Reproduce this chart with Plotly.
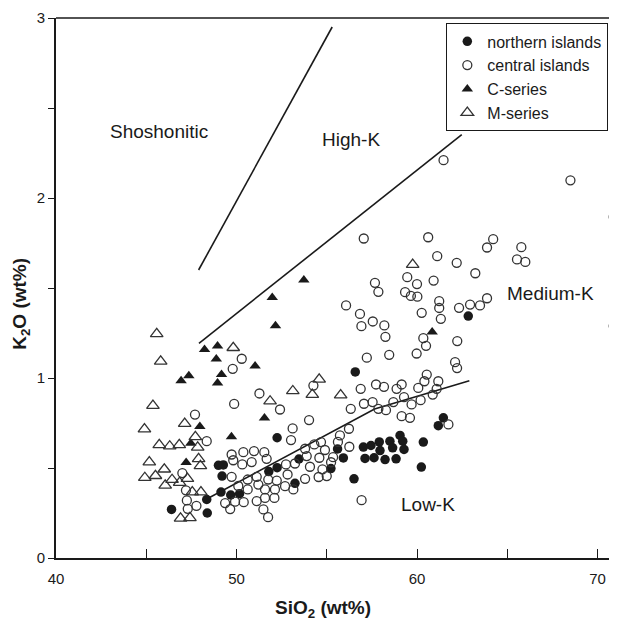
import plotly.graph_objects as go

# ---------------- data (SiO2 wt%, K2O wt%) ----------------
north_x = [46.4, 48.38, 48.35, 49.0, 49.27, 49.2, 49.14, 49.68, 50.17, 51.79, 52.25, 52.25,
           53.46, 53.24, 55.23, 55.6, 55.92, 56.51, 56.58, 57.03, 57.45, 57.91, 58.5, 59.06,
           59.21, 57.95, 58.65, 59.28, 57.12, 57.62, 58.23, 58.84, 60.35, 60.24, 61.46, 61.18, 62.84]
north_y = [0.27, 0.25, 0.325, 0.515, 0.517, 0.455, 0.366, 0.35, 0.357, 0.48, 0.502, 0.668,
           0.55, 0.415, 0.497, 0.606, 0.556, 0.44, 1.034, 0.616, 0.625, 0.645, 0.649, 0.681,
           0.649, 0.597, 0.612, 0.603, 0.553, 0.557, 0.547, 0.551, 0.644, 0.505, 0.779, 0.735, 1.344]

central_x = [61.47, 68.5, 70.9, 70.9, 57.05, 60.62, 61.12, 62.2, 63.23, 63.88, 64.22, 65.78,
             65.54, 66.0, 59.46, 60.0, 60.92, 59.34, 59.66, 60.02, 61.23, 61.23, 61.32, 60.26,
             62.33, 62.94, 63.49, 63.88, 57.67, 57.86, 56.07, 56.84, 56.92, 57.55, 58.19, 58.25,
             60.35, 60.5, 59.98, 62.23, 58.46, 57.22, 62.11, 62.22,
             56.88, 57.73, 58.17, 58.87, 59.15, 60.07, 60.54, 60.41, 61.18, 61.09, 60.87,
             56.33, 57.06, 57.54, 57.86, 58.28, 58.69, 59.28, 59.7, 60.2, 59.15, 59.61, 61.74,
             54.26, 50.29, 49.79,
             56.23, 55.73, 56.25, 55.62, 55.35, 54.02, 54.31, 54.68, 53.8, 54.9, 53.89, 54.59,
             53.24, 52.74, 54.07, 54.76, 55.24, 53.8, 52.83, 53.11, 53.02, 52.41, 51.27,
             55.0, 54.55,
             49.73, 50.38, 50.97, 51.54, 49.82, 50.32, 50.84, 51.67,
             49.73, 50.62, 51.12, 51.21, 51.76, 52.23, 52.69, 50.1, 50.62, 51.58, 52.13, 53.15,
             49.37, 49.65, 49.92, 50.4, 51.12, 51.58, 52.1, 51.49, 51.75,
             47.0, 47.2, 47.25, 47.78, 47.3, 47.7, 48.35, 49.87, 56.93]
central_y = [2.21, 2.098, 1.895, 1.289, 1.775, 1.782, 1.677, 1.64, 1.582, 1.725, 1.771, 1.727,
             1.659, 1.645, 1.56, 1.522, 1.541, 1.477, 1.456, 1.452, 1.427, 1.389, 1.329, 1.362,
             1.39, 1.408, 1.403, 1.443, 1.529, 1.479, 1.403, 1.356, 1.288, 1.314, 1.292, 1.229,
             1.221, 1.179, 1.136, 1.205, 1.129, 1.113, 1.088, 1.055,
             0.94, 0.964, 0.951, 0.94, 0.964, 0.945, 1.019, 0.982, 0.982, 0.94, 0.908,
             0.829, 0.857, 0.866, 0.829, 0.821, 0.866, 0.894, 0.853, 0.877, 0.788, 0.779, 0.742,
             0.958, 1.107, 1.051,
             0.718, 0.681, 0.618, 0.645, 0.56, 0.766, 0.631, 0.644, 0.607, 0.6, 0.566, 0.557,
             0.525, 0.52, 0.507, 0.492, 0.532, 0.44, 0.464, 0.72, 0.655, 0.825, 0.914,
             0.455, 0.45,
             0.575, 0.588, 0.594, 0.588, 0.543, 0.52, 0.533, 0.551,
             0.451, 0.436, 0.451, 0.408, 0.436, 0.43, 0.399, 0.4, 0.381, 0.381, 0.381, 0.381,
             0.305, 0.272, 0.313, 0.31, 0.316, 0.334, 0.334, 0.27, 0.227,
             0.472, 0.376, 0.32, 0.29, 0.273, 0.797, 0.649, 0.856, 0.321]

cser_x = [46.93, 47.36, 48.23, 48.95, 48.88, 49.17, 48.95, 51.03, 51.98, 52.16, 53.73, 60.84,
          47.97, 47.47, 47.21, 49.72, 51.55]
cser_y = [0.985, 1.013, 1.158, 1.178, 1.105, 1.02, 0.972, 1.066, 1.447, 1.29, 1.544, 1.255,
          0.731, 0.637, 0.531, 0.673, 0.778]

mser_x = [45.58, 45.8, 49.82, 45.37, 51.86, 53.12, 54.2, 54.58, 55.77, 59.76, 44.9, 47.13,
          47.72, 45.72, 46.3, 46.83, 47.85, 45.17, 47.9, 48.0, 46.0, 44.92, 45.51, 46.05,
          46.43, 46.85, 47.28, 47.55, 48.03, 46.9, 47.42]
mser_y = [1.245, 1.092, 1.168, 0.847, 0.871, 0.928, 0.908, 0.992, 0.905, 1.63, 0.716, 0.747,
          0.673, 0.629, 0.621, 0.629, 0.615, 0.533, 0.551, 0.512, 0.493, 0.446, 0.457, 0.404,
          0.435, 0.419, 0.441, 0.366, 0.366, 0.22, 0.223]

# field boundary lines
shosho_x, shosho_y = [47.9, 55.3], [1.6, 2.95]
highk_x, highk_y = [47.92, 62.48], [1.193, 2.352]
lowk_x, lowk_y = [48.3, 57.65, 62.9], [0.325, 0.828, 0.985]

x_ticks = [40, 50, 60, 70]
x_minor = [45, 55, 65]
y_ticks = [0, 1, 2, 3]
y_minor = [0.5, 1.5, 2.5]

INK = "#1a1a1a"
FONT = "Liberation Sans, Arial, Helvetica, sans-serif"

fig = go.Figure()

for bx, by in [(shosho_x, shosho_y), (highk_x, highk_y), (lowk_x, lowk_y)]:
    fig.add_trace(go.Scatter(x=bx, y=by, mode="lines", showlegend=False,
                             line=dict(color=INK, width=1.6), hoverinfo="skip"))

fig.add_trace(go.Scatter(x=north_x, y=north_y, mode="markers", name="northern islands",
                         legendgroup="a",
                         marker=dict(symbol="circle", size=9.5, color=INK,
                                     line=dict(width=0))))
fig.add_trace(go.Scatter(x=central_x, y=central_y, mode="markers", name="central islands",
                         legendgroup="b",
                         marker=dict(symbol="circle-open", size=9, color="#333333",
                                     line=dict(width=1.3, color="#333333"))))
fig.add_trace(go.Scatter(x=cser_x, y=cser_y, mode="markers", name="C-series",
                         legendgroup="c",
                         marker=dict(symbol="triangle-up", size=10, color=INK,
                                     line=dict(width=0))))
fig.add_trace(go.Scatter(x=mser_x, y=mser_y, mode="markers", name="M-series",
                         legendgroup="d",
                         marker=dict(symbol="triangle-up-open", size=11, color="#333333",
                                     line=dict(width=1.3, color="#333333"))))

labels = [("Shoshonitic", 45.73, 2.37), ("High-K", 56.37, 2.327),
          ("Medium-K", 67.42, 1.468), ("Low-K", 60.6, 0.297)]
annotations = [dict(x=lx, y=ly, xref="x", yref="y", text=t, showarrow=False,
                    font=dict(size=19, color=INK, family=FONT))
               for t, lx, ly in labels]
annotations.append(dict(x=0.4768, y=-0.095, xref="paper", yref="paper",
                        text="<b>SiO<sub>2</sub> (wt%)</b>", showarrow=False,
                        xanchor="center", yanchor="middle",
                        font=dict(size=19, color=INK, family=FONT)))
annotations.append(dict(x=-0.0613, y=0.47, xref="paper", yref="paper",
                        text="<b>K<sub>2</sub>O (wt%)</b>", showarrow=False, textangle=-90,
                        xanchor="center", yanchor="middle",
                        font=dict(size=19, color=INK, family=FONT)))

# page has an 8px body margin: figure sized so the plot area lands where the reference has it
fig.update_layout(
    width=609, height=618,
    margin=dict(l=48, r=0, t=10, b=68),
    paper_bgcolor="white", plot_bgcolor="white",
    font=dict(family=FONT, color=INK, size=15),
    annotations=annotations,
    shapes=[dict(type="line", xref="paper", yref="paper", x0=0, x1=1, y0=1, y1=1,
                 line=dict(color=INK, width=1.6))],
    legend=dict(x=0.984, xanchor="right", y=0.9906, yanchor="top",
                bordercolor=INK, borderwidth=1.3, bgcolor="white",
                font=dict(size=16, color=INK, family=FONT),
                tracegroupgap=0, itemwidth=30),
    xaxis=dict(range=[40, 71.08], tickvals=x_ticks, ticks="inside", ticklen=9,
               tickwidth=1.3, tickcolor=INK, showline=True, linecolor=INK, linewidth=1.6,
               showgrid=False, zeroline=False, ticklabelstandoff=6,
               tickfont=dict(size=15, color=INK, family=FONT),
               minor=dict(tickvals=x_minor, ticks="inside", ticklen=9, tickwidth=1.3,
                          tickcolor=INK, showgrid=False)),
    yaxis=dict(range=[0, 3], tickvals=y_ticks, ticks="outside", ticklen=6,
               tickwidth=1.3, tickcolor=INK, showline=True, linecolor=INK, linewidth=1.6,
               showgrid=False, zeroline=False,
               tickfont=dict(size=15, color=INK, family=FONT),
               minor=dict(tickvals=y_minor, ticks="outside", ticklen=6, tickwidth=1.3,
                          tickcolor=INK, showgrid=False)),
)

fig.write_html("out.html")
